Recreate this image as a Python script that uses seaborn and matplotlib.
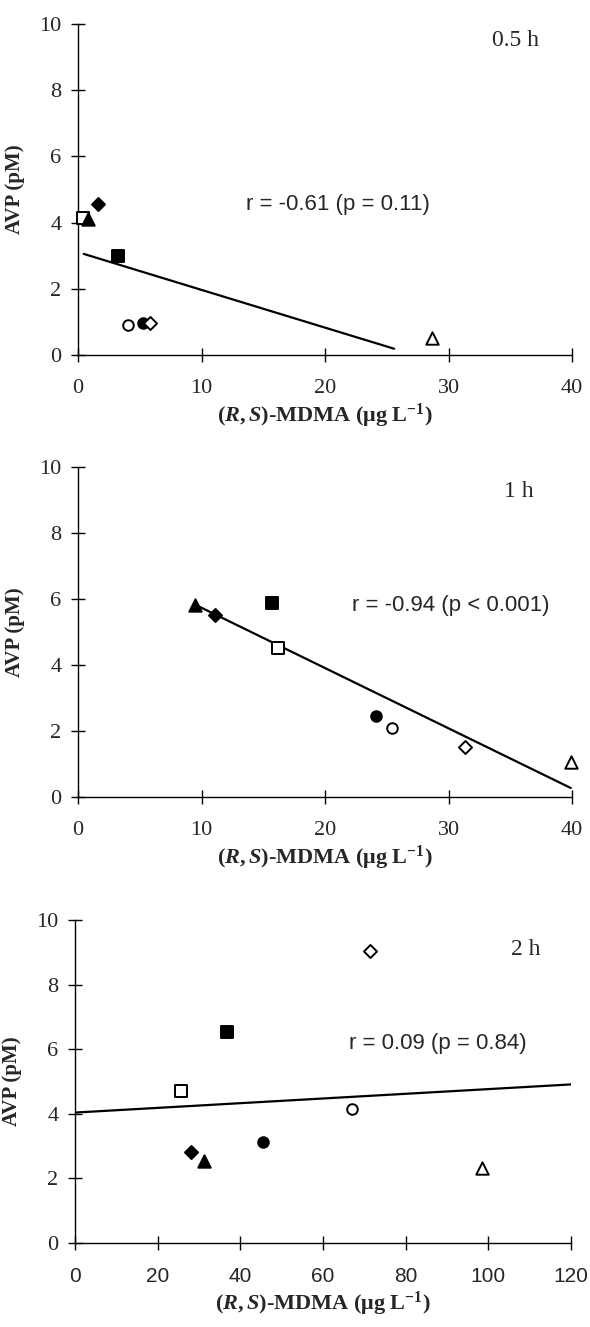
import numpy as np
import matplotlib
matplotlib.use("Agg")
import matplotlib.pyplot as plt
import seaborn as sns

# ---- data ----
# subject order: open square, filled triangle, filled diamond, filled square,
#                open circle, filled circle, open diamond, open triangle
subject_markers = ["s", "^", "D", "s", "o", "o", "D", "^"]
subject_filled = [False, True, True, True, False, True, False, False]

mdma_05h = [0.4, 0.8, 1.6, 3.2, 4.05, 5.3, 5.8, 28.66]
avp_05h = [4.15, 4.1, 4.57, 3.0, 0.92, 0.97, 0.97, 0.5]

mdma_1h = [16.17, 9.47, 11.06, 15.7, 25.46, 24.15, 31.3, 39.9]
avp_1h = [4.53, 5.83, 5.5, 5.88, 2.1, 2.44, 1.52, 1.05]

mdma_2h = [25.75, 31.26, 28.05, 36.8, 67.1, 45.5, 71.3, 98.4]
avp_2h = [4.71, 2.54, 2.82, 6.52, 4.14, 3.13, 9.05, 2.33]

panel_titles = ["0.5 h", "1 h", "2 h"]
r_texts = ["r = -0.61 (p = 0.11)", "r = -0.94 (p < 0.001)", "r = 0.09 (p = 0.84)"]
fit_ranges = [[0.46, 25.6], [9.47, 39.9], [0.0, 120.0]]
x_limits = [40, 40, 120]
x_steps = [10, 10, 20]
y_ticks = [0, 2, 4, 6, 8, 10]

# ---- style ----
sns.set_style("ticks")
plt.rcParams["font.family"] = ["Liberation Serif", "DejaVu Serif"]
plt.rcParams["mathtext.fontset"] = "custom"
plt.rcParams["mathtext.rm"] = "Liberation Serif:bold"
plt.rcParams["mathtext.bf"] = "Liberation Serif:bold"
plt.rcParams["mathtext.it"] = "Liberation Serif:bold:italic"

fig = plt.figure(figsize=(5.9, 13.27), dpi=100)
positions = [
    [78 / 590, 1 - 355 / 1327, 494 / 590, 331 / 1327],
    [78 / 590, 1 - 797 / 1327, 494 / 590, 330 / 1327],
    [75 / 590, 1 - 1243 / 1327, 496 / 590, 323 / 1327],
]
title_pos = [(35.4, 9.49), (35.7, 9.25), (108.97, 9.09)]
r_pos = [(13.57, 4.54), (22.18, 5.81), (66.2, 6.18)]

datasets = [(mdma_05h, avp_05h), (mdma_1h, avp_1h), (mdma_2h, avp_2h)]
marker_sizes = {"s": 66, "^": 80, "D": 44, "o": 58}

for i, (xs, ys) in enumerate(datasets):
    ax = fig.add_axes(positions[i])
    # regression line
    slope, intercept = np.polyfit(xs, ys, 1)
    lx = np.array(fit_ranges[i])
    sns.lineplot(x=lx, y=slope * lx + intercept, color="black", lw=1.6, ax=ax,
                 zorder=2)
    # points
    for x, y, m, f in zip(xs, ys, subject_markers, subject_filled):
        sns.scatterplot(x=[x], y=[y], marker=m, s=marker_sizes[m],
                        color="black" if f else "white",
                        edgecolor="black", linewidth=1.4, ax=ax, zorder=3,
                        clip_on=False)
    ax.set_xlim(0, x_limits[i])
    ax.set_ylim(0, 10)
    ax.set_xticks(np.arange(0, x_limits[i] + 1, x_steps[i]))
    ax.set_yticks(y_ticks)
    for s in ["top", "right"]:
        ax.spines[s].set_visible(False)
    for s in ["left", "bottom"]:
        ax.spines[s].set_linewidth(1.0)
        ax.spines[s].set_color("black")
        ax.spines[s].set_zorder(1)
    ax.tick_params(axis="both", direction="inout", length=10, width=1.0,
                   color="black", labelsize=16)
    ax.tick_params(axis="x", pad=12)
    ax.tick_params(axis="y", pad=7)
    if i == 2:
        for lab in ax.get_xticklabels():
            lab.set_fontfamily("Liberation Sans")
            lab.set_fontsize(15)
    ax.set_ylabel("AVP (pM)", fontsize=15, fontweight="bold", labelpad=10)
    ax.set_xlabel(r"($\mathit{R,S}$)-MDMA (μg L$^{-1}$)", fontsize=16,
                  fontweight="bold", labelpad=3)
    ax.text(title_pos[i][0], title_pos[i][1], panel_titles[i], fontsize=17,
            ha="center", va="center", family="Liberation Serif")
    ax.text(r_pos[i][0], r_pos[i][1], r_texts[i], fontsize=16,
            ha="left", va="center", family="Liberation Sans")
    ax.set_facecolor("white")

fig.patch.set_facecolor("white")
fig.savefig("out.png", dpi=100, facecolor="white")
